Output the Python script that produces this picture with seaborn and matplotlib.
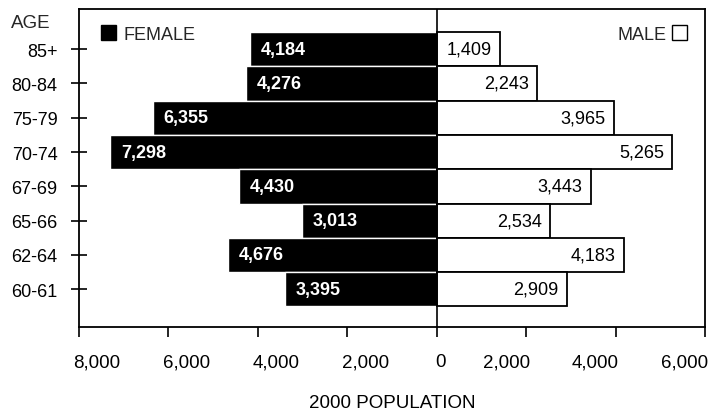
import matplotlib.pyplot as plt
import matplotlib.transforms as mtransforms
import pandas as pd
import seaborn as sns
from matplotlib.patches import Patch

# Data
ages = ["85+", "80-84", "75-79", "70-74", "67-69", "65-66", "62-64", "60-61"]
female = [4184, 4276, 6355, 7298, 4430, 3013, 4676, 3395]
male = [1409, 2243, 3965, 5265, 3443, 2534, 4183, 2909]
xticks = [-8000, -6000, -4000, -2000, 0, 2000, 4000, 6000]

df = pd.DataFrame({"age": ages, "female": [-v for v in female], "male": male})

sns.set_style("white")
plt.rcParams["font.family"] = ["Liberation Sans", "DejaVu Sans"]

fig = plt.figure(figsize=(7.22, 4.14), dpi=100)
ax = fig.add_axes([0.1094, 0.2077, 0.8671, 0.7681])

# Female bars (left, black) and male bars (right, white with black edge)
sns.barplot(data=df, x="female", y="age", order=ages, color="black",
            edgecolor="white", linewidth=1, width=1.0, saturation=1, ax=ax)
sns.barplot(data=df, x="male", y="age", order=ages, color="white",
            edgecolor="black", linewidth=1.3, width=1.0, saturation=1, ax=ax)

ax.axvline(0, color="black", lw=1.2)

# Value labels inside the bars
for i, (f, m) in enumerate(zip(female, male)):
    ax.annotate(f"{f:,}", xy=(-f, i), xytext=(8, 0), textcoords="offset points",
                ha="left", va="center", color="white", fontsize=13,
                fontweight="bold")
    ax.annotate(f"{m:,}", xy=(m, i), xytext=(-6, 0), textcoords="offset points",
                ha="right", va="center", color="black", fontsize=13)

ax.set_xlim(-8000, 6000)
ax.set_ylim(8.1, -1.17)
ax.set_xticks(xticks)
ax.set_xticklabels([f"{abs(t):,}" for t in xticks], fontsize=13.5)
ax.tick_params(axis="x", direction="out", length=7, width=1.2, pad=12,
               bottom=True, colors="black")
ax.tick_params(axis="y", direction="inout", length=11, width=1.2, pad=10,
               left=True, labelsize=13, colors="black")
ax.set_xlabel("2000 POPULATION", fontsize=13.5, labelpad=17, color="black")
ax.set_ylabel("")

# the x tick labels in the original sit shifted toward the centre line
for t, lab in zip(xticks, ax.get_xticklabels()):
    dx = 18 if t < 0 else (-20 if t > 0 else 4)
    lab.set_transform(lab.get_transform() +
                      mtransforms.ScaledTranslation(dx / 100, 0, fig.dpi_scale_trans))

for s in ax.spines.values():
    s.set_color("black")
    s.set_linewidth(1.3)

ax.text(-0.045, 0.985, "AGE", transform=ax.transAxes, ha="right", va="top",
        fontsize=13.5)

# Legends
leg_f = ax.legend(handles=[Patch(facecolor="black", edgecolor="black", label="FEMALE")],
                  loc="upper left", frameon=False, fontsize=13,
                  handlelength=0.85, handleheight=0.85, handletextpad=0.4,
                  borderaxespad=0.5, bbox_to_anchor=(0.009, 1.0))
ax.add_artist(leg_f)
ax.legend(handles=[Patch(facecolor="white", edgecolor="black", linewidth=1, label="MALE")],
          loc="upper right", frameon=False, fontsize=13, markerfirst=False,
          handlelength=0.85, handleheight=0.85, handletextpad=0.3,
          borderaxespad=0.5, bbox_to_anchor=(0.997, 1.0))

fig.savefig("out.png", dpi=100)
